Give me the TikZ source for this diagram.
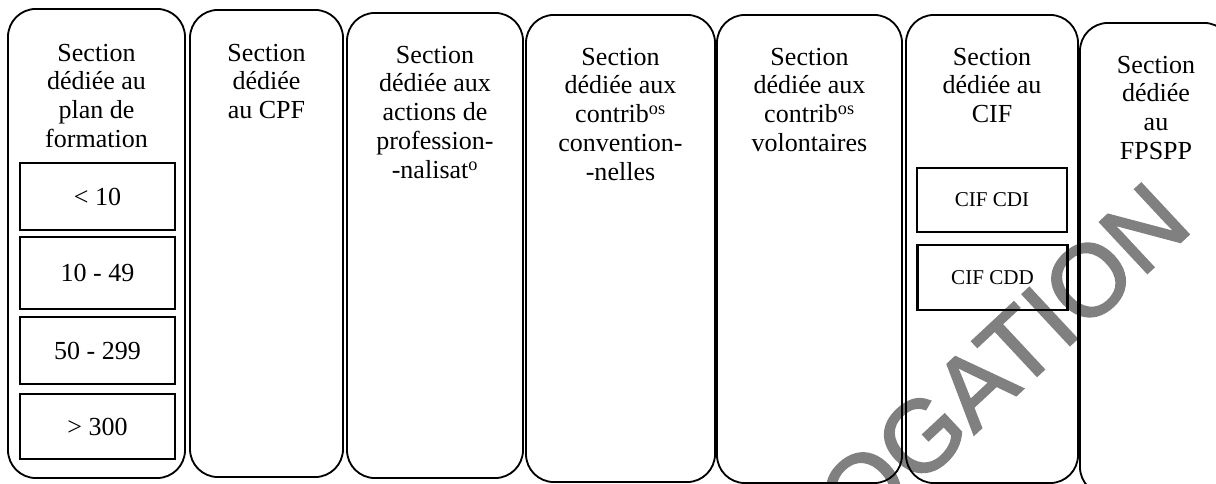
\documentclass[tikz,border=0pt]{standalone}
\usepackage{fontspec}
\setmainfont{Liberation Serif}
\newfontfamily\stampfont[FakeBold=2]{Liberation Sans}
\usetikzlibrary{positioning}

\begin{document}
\begin{tikzpicture}[x=0.025cm, y=-0.025cm,
    section/.style={rectangle, draw, black, line width=1.3pt, rounded corners=0.7cm, inner sep=0pt},
    title/.style={anchor=north, align=center, inner sep=0pt, font=\fontsize{18.5}{20.6}\selectfont},
    band/.style={rectangle, draw, black, line width=1.8pt, inner sep=0pt, minimum width=3.875cm, font=\fontsize{18.5}{20.6}\selectfont},
    cifbox/.style={rectangle, draw, black, line width=1.8pt, inner sep=0pt, minimum width=3.75cm, font=\fontsize{15}{17}\selectfont},
    stamp/.style={text=gray, inner sep=0pt, rotate=43, font=\stampfont\fontsize{72}{76}\selectfont}]

    \useasboundingbox (0,0) rectangle (1216,484);
    \clip (0,0) rectangle (1216,484);

    % Watermark behind the sections
    \node[stamp] (watermark) at (1003,360) {OGATION};

    % The seven sections, side by side
    \node[section, minimum width=4.425cm, minimum height=11.725cm] (plan) at (96.5,243.5) {};
    \node[section, minimum width=3.825cm, minimum height=11.675cm] (cpf) at (266.5,243.5) {};
    \node[section, minimum width=4.4cm, minimum height=11.625cm] (pro) at (435,245.5) {};
    \node[section, minimum width=4.725cm, minimum height=11.675cm] (conv) at (620.5,248.5) {};
    \node[section, minimum width=4.625cm, minimum height=11.7cm] (volont) at (809.5,249) {};
    \node[section, minimum width=4.3cm, minimum height=11.7cm] (cif) at (992,249) {};
    \node[section, minimum width=3.8cm, minimum height=11.8cm] (fpspp) at (1156,259) {};

    % Section titles
    \node[title] (plan_t) at (96.5,43.5) {Section\\dédiée au\\plan de\\formation};
    \node[title] (cpf_t) at (266.5,43.5) {Section\\dédiée\\au CPF};
    \node[title] (pro_t) at (435,45.5) {Section\\dédiée aux\\actions de\\profession-\\-nalisat\textsuperscript{o}};
    \node[title] (conv_t) at (620.5,47.5) {Section\\dédiée aux\\contrib\textsuperscript{os}\\convention-\\-nelles};
    \node[title] (volont_t) at (809.5,47.5) {Section\\dédiée aux\\contrib\textsuperscript{os}\\volontaires};
    \node[title] (cif_t) at (992,47.5) {Section\\dédiée au\\CIF};
    \node[title] (fpspp_t) at (1156,55.5) {Section\\dédiée\\au\\FPSPP};

    % Size bands of the training plan
    \node[band, minimum height=1.675cm] (b_10) at (97.5,196.5) {< 10};
    \node[band, minimum height=1.8cm] (b_49) at (97.5,273) {10 - 49};
    \node[band, minimum height=1.675cm] (b_299) at (97.5,350.5) {50 - 299};
    \node[band, minimum height=1.625cm] (b_300) at (97.5,426.5) {> 300};

    % CIF sub-boxes
    \node[cifbox, minimum height=1.6cm] (cif_cdi) at (992,200) {CIF CDI};
    \node[cifbox, minimum height=1.625cm] (cif_cdd) at (992.5,277.5) {CIF CDD};

\end{tikzpicture}
\end{document}
